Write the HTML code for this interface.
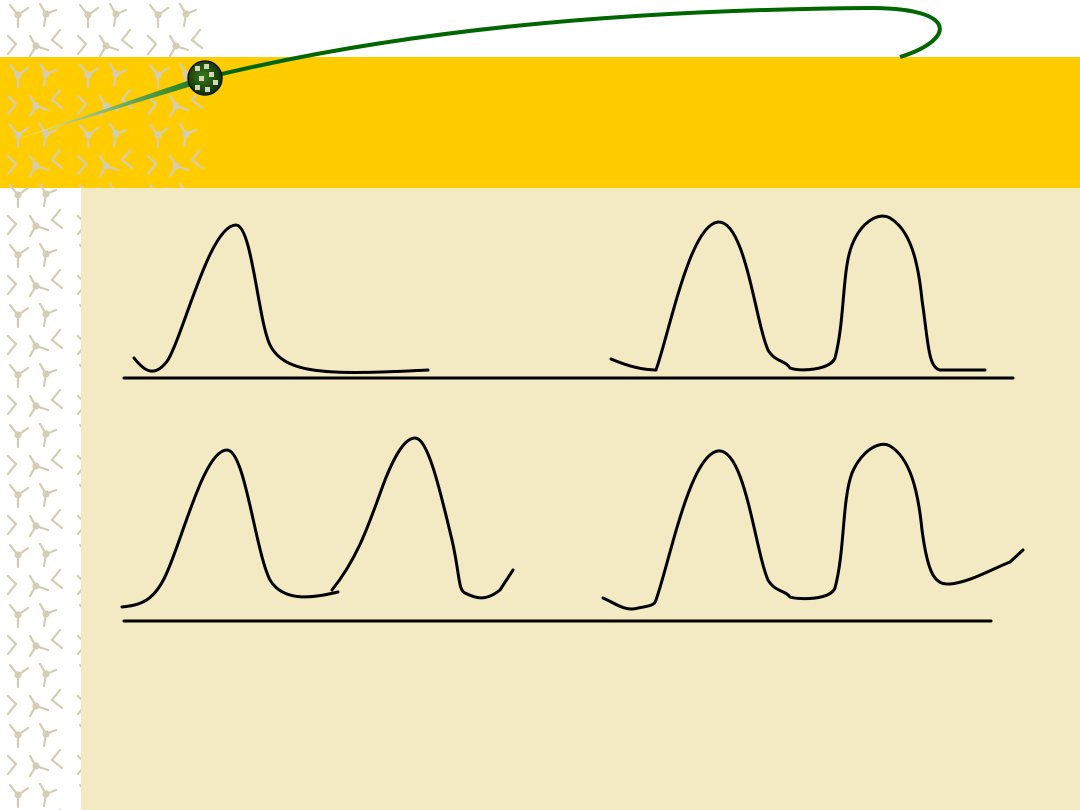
<!DOCTYPE html>
<html><head><meta charset="utf-8"><style>
html,body{margin:0;padding:0;background:#fff;}
body{width:1080px;height:810px;position:relative;overflow:hidden;font-family:"Liberation Sans",sans-serif;}
</style></head><body>
<svg width="1080" height="810" viewBox="0 0 1080 810" style="position:absolute;left:0;top:0">
<defs>
<pattern id="mol" width="70" height="60" patternUnits="userSpaceOnUse">
<g stroke="#d3cdb4" stroke-width="2.2" fill="none" stroke-linecap="round">
<path d="M10 5 L18 15 L28 8 M18 15 L18 27 M40 4 L46 14 L56 10 M46 14 L44 26 M60 30 L52 40 L62 48 M8 36 L16 44 L8 54 M30 36 L36 46 L30 56 M36 46 L48 50"/>
<circle cx="18" cy="15" r="2.5"/><circle cx="46" cy="14" r="2.5"/><circle cx="36" cy="46" r="2.5"/>
</g>
</pattern>
<linearGradient id="tail" x1="20" y1="138" x2="205" y2="78" gradientUnits="userSpaceOnUse">
<stop offset="0" stop-color="#e8ecc8"/><stop offset="1" stop-color="#117711"/>
</linearGradient>
<radialGradient id="ball" cx="0.45" cy="0.45" r="0.6"><stop offset="0" stop-color="#3a7a1a"/><stop offset="1" stop-color="#0d2a06"/></radialGradient>
</defs>
<rect x="0" y="57" width="1080" height="131" fill="#ffcc00"/>
<rect x="0" y="0" width="210" height="190" fill="url(#mol)"/>
<rect x="0" y="188" width="81" height="622" fill="url(#mol)"/>
<rect x="81" y="188" width="999" height="622" fill="#f3eac3"/>
<path d="M205 78 C 400 30, 620 10, 870 8 C 960 8, 955 40, 900 57" stroke="#006600" stroke-width="4" fill="none"/>
<path d="M17 139 L205 75 L205 82 Z" fill="url(#tail)"/>
<circle cx="205" cy="78" r="17" fill="url(#ball)" stroke="#111" stroke-width="1.5"/>
<g fill="#cfd8b8"><rect x="195" y="66" width="5" height="5"/><rect x="204" y="64" width="5" height="5"/><rect x="209" y="72" width="5" height="5"/><rect x="199" y="76" width="5" height="5"/><rect x="213" y="80" width="5" height="5"/><rect x="195" y="85" width="5" height="5"/><rect x="205" y="87" width="5" height="5"/></g>
<g stroke="#000" stroke-width="3" fill="none" stroke-linecap="round" stroke-linejoin="round">
<line x1="124" y1="378" x2="1013" y2="378"/>
<line x1="124" y1="621" x2="991" y2="621"/>
<path d="M134 358 C 145 372, 155 378, 168 360 C 185 330, 210 225, 236 225 C 252 225, 258 320, 270 345 C 285 375, 330 375, 428 370"/>
<path d="M611 359 C 625 365, 640 370, 656 370 C 670 330, 690 225, 718 222 C 745 220, 755 320, 768 350 C 775 362, 785 360, 790 368 C 800 372, 830 370, 835 358 C 845 320, 842 270, 852 245 C 862 220, 880 212, 890 218 C 910 230, 918 260, 922 300 C 928 340, 928 368, 940 370 L 985 370"/>
<path d="M122 607 C 140 605, 155 602, 168 570 C 185 530, 205 450, 227 450 C 245 450, 255 550, 270 580 C 285 605, 320 596, 338 592"/>
<path d="M332 590 C 360 555, 370 520, 385 480 C 395 455, 405 438, 415 438 C 428 438, 440 490, 452 540 C 460 575, 458 590, 465 593 C 475 598, 485 602, 500 590 L 513 570"/>
<path d="M603 598 C 615 603, 625 612, 638 608 C 650 606, 655 605, 656 600 C 670 560, 690 455, 718 451 C 745 448, 755 550, 768 580 C 775 592, 785 590, 790 597 C 800 600, 830 600, 835 588 C 845 550, 842 500, 852 473 C 862 450, 880 440, 890 446 C 910 458, 918 490, 922 530 C 928 575, 935 585, 950 584 C 970 582, 990 570, 1010 562 L 1023 550"/>
</g>
</svg>
</body></html>
